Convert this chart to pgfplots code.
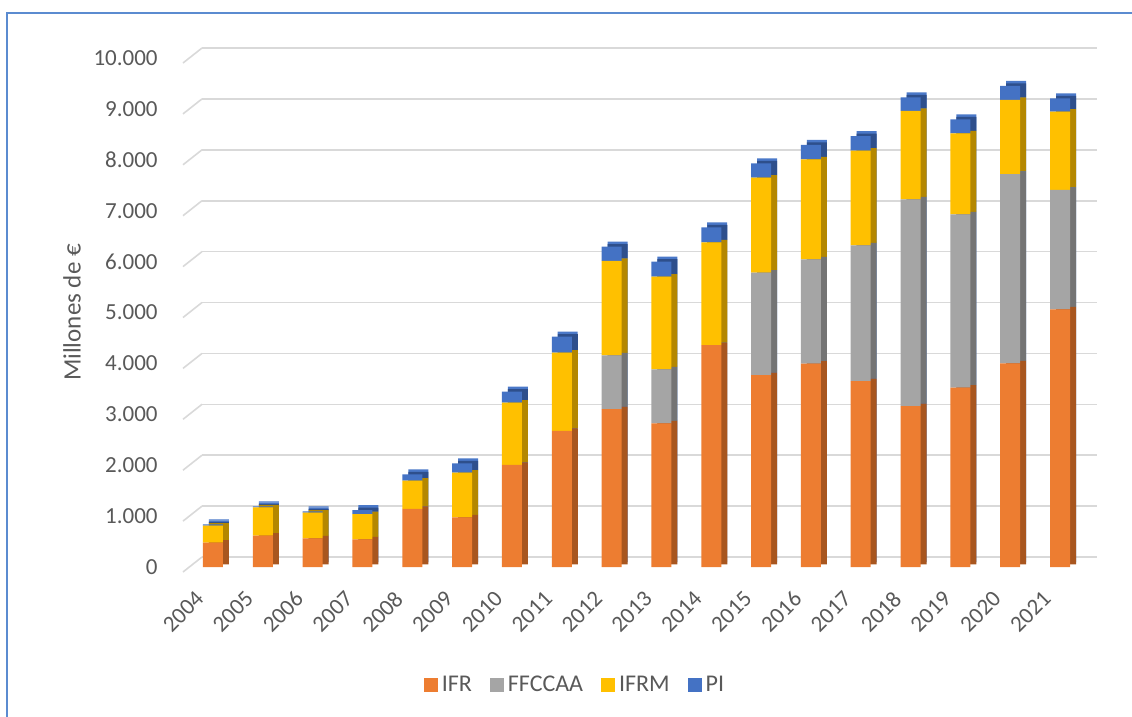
\documentclass[border=0pt]{standalone}
\usepackage{pgfplots}
\pgfplotsset{compat=1.18}
\usepackage{pgfplotstable}
\usepackage{fontspec}
\setmainfont{Carlito}

\definecolor{cIFR}{HTML}{ED7D31}
\definecolor{cFF}{HTML}{A5A5A5}
\definecolor{cIFRM}{HTML}{FFC000}
\definecolor{cPI}{HTML}{4472C4}
\definecolor{tPI}{HTML}{4A78C8}
\definecolor{dIFR}{HTML}{A8561F}
\definecolor{dFF}{HTML}{747474}
\definecolor{dIFRM}{HTML}{B48700}
\definecolor{dPI}{HTML}{2E4F8C}
\definecolor{txt}{HTML}{595959}
\definecolor{gridc}{HTML}{D9D9D9}
\definecolor{framec}{HTML}{5B8BD0}

\pgfplotstableread{
x  ifr   ff    ifrm  pi
0  478   0     334   25
1  616   0     556   20
2  563   0     504   25
3  543   0     495   80
4  1143  0     553   125
5  976   0     877   185
6  2004  0     1225  216
7  2672  0     1539  314
8  3104  1054  1854  282
9  2823  1061  1820  295
10 4361  0     2018  295
11 3772  2010  1867  282
12 3995  2050  1964  282
13 3654  2666  1859  288
14 3163  4060  1736  268
15 3523  3406  1591  275
16 4001  3720  1454  275
17 5062  2345  1539  262
}\data

\pgfplotsset{
  base/.style={
    at={(94.5pt,-283.5pt)}, anchor=south west,
    scale only axis, width=447.5pt, height=254.5pt,
    xmin=-0.48, xmax=17.48, ymin=0, ymax=10000,
    ybar stacked, bar width=10pt, clip=false,
  },
}

\begin{document}
\begin{tikzpicture}
\useasboundingbox (0,0) rectangle (566pt,-358.5pt);
\draw[framec, line width=1pt] (3.5pt,-358.5pt) -- (3.5pt,-6.5pt) -- (566pt,-6.5pt);

% back copy: top faces, with grid, ticks and labels
\begin{axis}[base,
  axis line style={draw=none},
  major tick length=0pt,
  ymajorgrids,
  major grid style={draw=gridc, line width=0.8pt, xshift=6.5pt, yshift=5pt},
  ytick={0,1000,...,10000},
  xtick={0,...,17},
  xticklabels={2004,2005,2006,2007,2008,2009,2010,2011,2012,2013,2014,2015,2016,2017,2018,2019,2020,2021},
  scaled y ticks=false,
  /pgf/number format/.cd, 1000 sep={.}, assume math mode=true, /pgfplots/.cd,
  every tick label/.append style={font=\fontsize{11.5}{13}\selectfont, color=txt, inner sep=0pt},
  yticklabel style={xshift=-15.5pt, anchor=east},
  xticklabel style={xshift=-6.5pt, yshift=-14pt, rotate=45, anchor=east},
  ylabel={Millones de €},
  every axis y label/.style={at={(rel axis cs:0,0.5)}, xshift=-58.5pt, rotate=90, anchor=center,
     font=\fontsize{12.5}{14}\selectfont, color=txt},
  every axis plot/.append style={xshift=3pt, yshift=2.5pt},
]
\pgfplotsinvokeforeach{0,1000,2000,3000,4000,5000,6000,7000,8000,9000,10000}{
  \draw[gridc, line width=0.8pt] ([xshift=-3pt,yshift=-2.5pt]axis cs:-0.48,#1) -- ([xshift=6.5pt,yshift=5pt]axis cs:-0.48,#1);
}
\addplot[fill=tPI, draw=none] table[x=x,y=ifr]{\data};
\addplot[fill=tPI, draw=none] table[x=x,y=ff]{\data};
\addplot[fill=tPI, draw=none] table[x=x,y=ifrm]{\data};
\addplot[fill=tPI, draw=none] table[x=x,y=pi]{\data};
\end{axis}

% side faces
\begin{axis}[base, hide axis,
  every axis plot/.append style={xshift=3pt, yshift=1.25pt}]
\addplot[fill=dIFR, draw=none] table[x=x,y=ifr]{\data};
\addplot[fill=dFF, draw=none] table[x=x,y=ff]{\data};
\addplot[fill=dIFRM, draw=none] table[x=x,y=ifrm]{\data};
\addplot[fill=dPI, draw=none] table[x=x,y=pi]{\data};
\end{axis}

% front faces + legend
\begin{axis}[base, hide axis,
  legend style={at={(0.4324,-0.2318)}, anchor=center, draw=none, fill=none,
    legend columns=4, font=\fontsize{12}{14}\selectfont\color{txt},
    /tikz/every even column/.append style={column sep=7pt}},
  legend image code/.code={\fill[#1] (0pt,-3.5pt) rectangle (7pt,3.5pt);},
]
\addplot[fill=cIFR, draw=none] table[x=x,y=ifr]{\data};
\addlegendentry{IFR}
\addplot[fill=cFF, draw=none] table[x=x,y=ff]{\data};
\addlegendentry{FFCCAA}
\addplot[fill=cIFRM, draw=none] table[x=x,y=ifrm]{\data};
\addlegendentry{IFRM}
\addplot[fill=cPI, draw=none] table[x=x,y=pi]{\data};
\addlegendentry{PI}
\end{axis}
\end{tikzpicture}
\end{document}
